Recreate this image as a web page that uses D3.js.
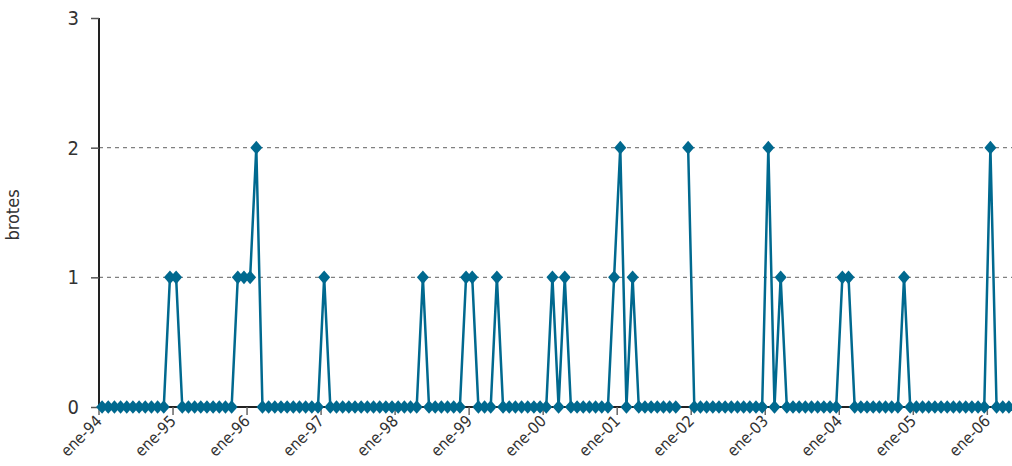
<!DOCTYPE html>
<html>
<head>
<meta charset="utf-8">
<script src="https://cdn.jsdelivr.net/npm/d3@7"></script>
<style>
  body { margin: 0; background: #fff; }
  text { font-family: "Liberation Sans Narrow", "DejaVu Sans Condensed", "DejaVu Sans", sans-serif; font-stretch: condensed; fill: #333; }
</style>
</head>
<body>
<div id="chart"></div>
<script>
// monthly outbreaks, ene-94 .. abr-06 (null = no data)
var monthNames = ["ene", "feb", "mar", "abr", "may", "jun", "jul", "ago", "sep", "oct", "nov", "dic"];
var years = ["94", "95", "96", "97", "98", "99", "00", "01", "02", "03", "04", "05", "06"];
var brotes = [
  0, 0, 0, 0, 0, 0, 0, 0, 0, 0, 0, 1,      // 1994
  1, 0, 0, 0, 0, 0, 0, 0, 0, 0, 1, 1,      // 1995
  1, 2, 0, 0, 0, 0, 0, 0, 0, 0, 0, 0,      // 1996
  1, 0, 0, 0, 0, 0, 0, 0, 0, 0, 0, 0,      // 1997
  0, 0, 0, 0, 1, 0, 0, 0, 0, 0, 0, 1,      // 1998
  1, 0, 0, 0, 1, 0, 0, 0, 0, 0, 0, 0,      // 1999
  0, 1, 0, 1, 0, 0, 0, 0, 0, 0, 0, 1,      // 2000
  2, 0, 1, 0, 0, 0, 0, 0, 0, 0, null, 2,   // 2001
  0, 0, 0, 0, 0, 0, 0, 0, 0, 0, 0, 0,      // 2002
  2, 0, 1, 0, 0, 0, 0, 0, 0, 0, 0, 0,      // 2003
  1, 1, 0, 0, 0, 0, 0, 0, 0, 0, 1, 0,      // 2004
  0, 0, 0, 0, 0, 0, 0, 0, 0, 0, 0, 0,      // 2005
  2, 0, 0, 0                               // 2006
];
var yTicks = [0, 1, 2, 3];

var categories = [];
years.forEach(function (y) {
  monthNames.forEach(function (m) { categories.push(m + "-" + y); });
});
categories = categories.slice(0, brotes.length);

var data = brotes.map(function (v, i) { return { cat: categories[i], value: v }; });

var margin = { top: 18, right: 0, bottom: 59, left: 99 };
var svgWidth = 1012;
var svgHeight = 466;
var width = svgWidth - margin.left - margin.right;
var height = svgHeight - margin.top - margin.bottom;

var svg = d3.select("#chart")
  .append("svg")
  .attr("width", svgWidth)
  .attr("height", svgHeight);

var g = svg.append("g")
  .attr("transform", `translate(${margin.left}, ${margin.top})`);

var x = d3.scaleBand()
  .domain(categories)
  .range([0, width]);

var y = d3.scaleLinear()
  .domain([0, 3])
  .range([height, 0]);

// gridlines
g.selectAll(".grid")
  .data(yTicks.filter(d => d > 0 && d < 3))
  .enter()
  .append("line")
  .attr("x1", 0)
  .attr("x2", width)
  .attr("y1", d => y(d))
  .attr("y2", d => y(d))
  .attr("stroke", "#808080")
  .attr("stroke-width", 1.3)
  .attr("stroke-dasharray", "4,4");

// y axis
var leftAxis = d3.axisLeft(y).tickValues(yTicks).tickSize(8).tickPadding(12).tickFormat(d3.format("d"));
var yAx = g.append("g").call(leftAxis);
yAx.select(".domain").attr("stroke", "#222").attr("stroke-width", 2).attr("d", `M0,0V${height}`);
yAx.selectAll(".tick line").attr("stroke", "#555").attr("stroke-width", 1.5);
yAx.selectAll(".tick text").attr("font-size", 20).style("fill", "#333");

// x axis: ticks on category boundaries, every 12 months
var yearStarts = categories.filter((c, i) => i % 12 === 0);
var xAx = g.append("g").attr("transform", `translate(0, ${height})`);
xAx.append("line")
  .attr("x1", 0).attr("x2", width)
  .attr("stroke", "#222").attr("stroke-width", 2);
xAx.selectAll(".xt")
  .data(yearStarts)
  .enter()
  .append("line")
  .attr("x1", d => x(d)).attr("x2", d => x(d))
  .attr("y1", 0).attr("y2", 8)
  .attr("stroke", "#666").attr("stroke-width", 1.5);
xAx.selectAll(".xl")
  .data(yearStarts)
  .enter()
  .append("text")
  .attr("transform", d => `translate(${x(d) + 4}, ${15}) rotate(-45)`)
  .attr("text-anchor", "end")
  .attr("font-size", 16)
  .text(d => d);

// line
var line = d3.line()
  .defined(d => d.value !== null)
  .x(d => x(d.cat) + x.bandwidth() / 2)
  .y(d => y(d.value));

g.append("path")
  .datum(data)
  .attr("fill", "none")
  .attr("stroke", "#00698f")
  .attr("stroke-width", 2.5)
  .attr("stroke-linejoin", "round")
  .attr("d", line);

// diamond markers
g.selectAll(".pt")
  .data(data.filter(d => d.value !== null))
  .enter()
  .append("path")
  .attr("transform", d => `translate(${x(d.cat) + x.bandwidth() / 2}, ${y(d.value)})`)
  .attr("d", "M0,-6.8L6,0L0,6.8L-6,0Z")
  .attr("fill", "#00698f");

// y title
g.append("text")
  .attr("transform", `translate(${-80}, ${197}) rotate(-90)`)
  .attr("text-anchor", "middle")
  .attr("font-size", 18)
  .text("brotes");
</script>
</body>
</html>
